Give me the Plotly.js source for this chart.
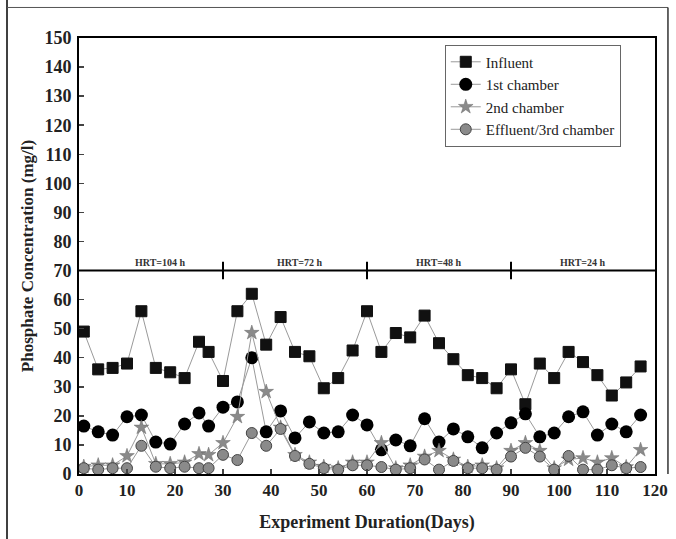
<!DOCTYPE html>
<html><head><meta charset="utf-8">
<script src="https://cdn.plot.ly/plotly-3.0.1.min.js"></script>
<style>body{margin:0;background:#fff}#c{width:676px;height:539px}</style>
</head><body><div id="c"></div>
<script>
const days = [1,4,7,10,13,16,19,22,25,27,30,33,36,39,42,45,48,51,54,57,60,63,66,69,72,75,78,81,84,87,90,93,96,99,102,105,108,111,114,117];
const influent = [49,36,36.5,38,56,36.5,35,33,45.5,42,32,56,62,44.5,54,42,40.5,29.5,33,42.5,56,42,48.5,47,54.5,45,39.5,34,33,29.5,36,24,38,33,42,38.5,34,27,31.5,37];
const chamber1 = [16.5,14.5,13.4,19.7,20.3,11,10.3,17.2,21,16.5,23,24.8,40,14.5,21.7,12.4,17.9,14.1,14.5,20.3,16.9,8.3,11.7,9.7,19,11,15.5,12.8,9,14.1,17.6,20.7,12.8,14.1,19.7,21.4,13.4,17.2,14.5,20.3];
const chamber2 = [2.5,3,3,6.2,16,3.5,3.5,4,6.9,6.6,10.7,19.7,48.6,28.3,16,6.6,4,2.5,2,4,4,10.7,2,3,6,8,5,2.5,3,2,8,10.7,8,2,5,5.5,4,5.5,2.4,8.3];
const effluent = [2,1.5,2,2,9.7,2.5,2,2.5,2,2,6.6,4.8,14.1,9.7,15.5,6.2,3.5,2,1.5,3,3,2.4,1.5,2,5,1.5,4.5,2,2,1.5,6,9,6,1.5,6.2,1.5,1.5,3,2,2.4];
const hrtLabels = ["HRT=104 h","HRT=72 h","HRT=48 h","HRT=24 h"];
const hrtCenters = [17,46,75,105];
const hrtBounds = [30,60,90];
const hrtLevel = 70;

const F = "Liberation Serif, Times New Roman, serif";
const lineCol = "#9a9a9a";
const traces = [
 {x:days,y:influent,name:"Influent",mode:"lines+markers",line:{color:lineCol,width:1},
  marker:{symbol:"square",size:11,color:"#111",line:{color:"#111",width:1}}},
 {x:days,y:chamber1,name:"1st chamber",mode:"lines+markers",line:{color:lineCol,width:1},
  marker:{symbol:"circle",size:13,color:"#000"}},
 {x:days,y:chamber2,name:"2nd chamber",mode:"lines+markers",line:{color:lineCol,width:1},
  marker:{symbol:"star",size:11,color:"#8a8a8a",line:{color:"#6a6a6a",width:0.5}}},
 {x:days,y:effluent,name:"Effluent/3rd chamber",mode:"lines+markers",line:{color:lineCol,width:1},
  marker:{symbol:"circle",size:11,color:"#8a8a8a",line:{color:"#444",width:1}}}
];
const shapes = [
 {type:"line",xref:"x",yref:"y",x0:0,x1:120,y0:hrtLevel,y1:hrtLevel,line:{color:"#000",width:2}},
 {type:"line",xref:"paper",yref:"paper",x0:-0.125,x1:-0.125,y0:-0.2,y1:1.1,line:{color:"#000",width:1.5}},
 {type:"line",xref:"paper",yref:"paper",x0:-0.125,x1:1.0225,y0:1.07,y1:1.07,line:{color:"#555",width:1}},
 {type:"line",xref:"paper",yref:"paper",x0:1.0225,x1:1.0225,y0:0,y1:1.07,line:{color:"#333",width:1.5}}
];
hrtBounds.forEach(b=>shapes.push({type:"line",xref:"x",yref:"y",x0:b,x1:b,y0:hrtLevel-3,y1:hrtLevel+3,line:{color:"#000",width:2}}));
const annotations = hrtLabels.map((t,i)=>({x:hrtCenters[i],y:hrtLevel,xref:"x",yref:"y",text:t,showarrow:false,yanchor:"bottom",yshift:1,font:{family:F,size:10,color:"#333",weight:"bold"}}));

const layout = {
 width:676,height:539,margin:{l:79,r:21,t:38,b:65},
 paper_bgcolor:"#fff",plot_bgcolor:"#fff",showlegend:true,
 font:{family:F,color:"#222"},
 xaxis:{range:[0,120],dtick:10,tick0:0,ticks:"inside",ticklen:5,tickwidth:1.5,showgrid:false,zeroline:false,
   showline:true,linecolor:"#000",linewidth:2,mirror:true,tickfont:{family:F,size:17,weight:"bold",color:"#222"},
   title:{text:"Experiment Duration(Days)",font:{family:F,size:18,weight:"bold",color:"#222"},standoff:16}},
 yaxis:{range:[0,150],dtick:10,tick0:0,ticks:"inside",ticklen:5,tickwidth:1.5,showgrid:false,zeroline:false,
   showline:true,linecolor:"#000",linewidth:2,mirror:true,tickfont:{family:F,size:18,weight:"bold",color:"#222"},
   ticklabelstandoff:2,
   title:{text:"Phosphate Concentration (mg/l)",font:{family:F,size:17,weight:"bold",color:"#222"},standoff:6}},
 legend:{x:0.635,y:0.985,xanchor:"left",yanchor:"top",bgcolor:"#fff",bordercolor:"#666",borderwidth:1,
   font:{family:F,size:15,color:"#222"},tracegroupgap:0,itemwidth:30},
 shapes:shapes,annotations:annotations
};
Plotly.newPlot("c",traces,layout,{displayModeBar:false,staticPlot:true});
</script></body></html>
